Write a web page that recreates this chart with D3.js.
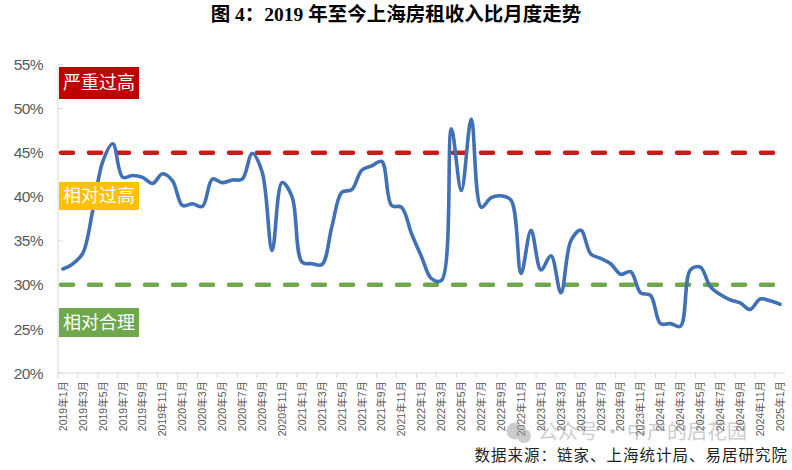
<!DOCTYPE html>
<html>
<head>
<meta charset="utf-8">
<script src="https://cdn.jsdelivr.net/npm/d3@7/dist/d3.min.js"></script>
<style>
  html, body { margin: 0; padding: 0; background: #fff; }
  svg { display: block; }
</style>
</head>
<body>
<svg id="chart" width="792" height="470"></svg>
<script>
// ---------------- data ----------------
const title = "图 4：2019 年至今上海房租收入比月度走势";
const source = "数据来源：链家、上海统计局、易居研究院";
const watermark = "公众号 · 中产的后花园";

const startYear = 2019;
const monthCount = 73; // 2019年1月 … 2025年1月
const months = [];
for (let i = 0; i < monthCount; i++) {
  const yr = startYear + Math.floor(i / 12), m = (i % 12) + 1;
  months.push(yr + "年" + m + "月");
}

// 房租收入比 (%)
const ratio = [
  31.8, 32.4, 33.6, 38.5, 44.0, 46.0, 42.2, 42.4, 42.2, 41.5, 42.6, 41.8,
  39.0, 39.2, 38.9, 42.0, 41.6, 41.9, 42.0, 44.9, 42.8, 33.9, 41.6, 40.0,
  32.6, 32.4, 32.3, 36.6, 40.5, 40.8, 43.0, 43.5, 44.0, 39.0, 38.8, 35.8,
  33.2, 30.7, 30.5, 47.7, 40.7, 48.8, 38.8, 39.9, 40.1, 39.6, 31.3, 36.2,
  31.7, 33.3, 29.1, 35.0, 36.2, 33.5, 33.0, 32.4, 31.2, 31.5, 29.1, 28.8,
  25.6, 25.6, 25.3, 31.7, 32.0, 29.8, 28.9, 28.3, 27.95, 27.2, 28.4, 28.2,
  27.8
];

const yTicks = [20, 25, 30, 35, 40, 45, 50, 55];
const thresholds = [
  { value: 45, color: "#CC1A1A" },
  { value: 30, color: "#6FA84A" }
];
const zoneLabels = [
  { text: "严重过高", color: "#C00000", y: 67, h: 32 },
  { text: "相对过高", color: "#FFC000", y: 182, h: 28 },
  { text: "相对合理", color: "#6FA84A", y: 308, h: 29 }
];

// ---------------- layout ----------------
const svg = d3.select("#chart");
const plotL = 58, plotR = 785, plotT = 64.5, plotB = 373;

const x = d3.scaleBand().domain(months).range([plotL, plotR]).padding(0);
const y = d3.scaleLinear().domain([20, 55]).range([plotB, plotT]);
const cx = d => x(d) + x.bandwidth() / 2;

const latin = "'Liberation Sans', Arial, 'Noto Sans CJK SC', sans-serif";

// title
svg.append("text")
  .attr("x", 396).attr("y", 21)
  .attr("text-anchor", "middle")
  .attr("font-family", "'Liberation Serif', 'Noto Sans CJK SC', serif")
  .attr("font-weight", "bold")
  .attr("font-size", 19.5)
  .attr("fill", "#000")
  .text(title);

// y axis
const yAxis = svg.append("g");
yAxis.append("line")
  .attr("x1", plotL).attr("x2", plotL)
  .attr("y1", plotT).attr("y2", plotB)
  .attr("stroke", "#D9D9D9").attr("stroke-width", 1);
yAxis.selectAll("line.tick").data(yTicks).join("line")
  .attr("class", "tick")
  .attr("x1", plotL).attr("x2", plotL + 5)
  .attr("y1", d => y(d)).attr("y2", d => y(d))
  .attr("stroke", "#D9D9D9");
yAxis.selectAll("text").data(yTicks).join("text")
  .attr("x", 43).attr("y", d => y(d))
  .attr("dy", "0.36em")
  .attr("text-anchor", "end")
  .attr("font-family", latin)
  .attr("font-size", 15.5)
  .attr("letter-spacing", -0.6)
  .attr("fill", "#595959")
  .text(d => d + "%");

// x axis
const xAxis = svg.append("g");
xAxis.append("line")
  .attr("x1", plotL).attr("x2", plotR)
  .attr("y1", plotB).attr("y2", plotB)
  .attr("stroke", "#D9D9D9");
const tickMonths = months.filter((d, i) => i % 2 === 0);
xAxis.selectAll("line.tick").data(tickMonths).join("line")
  .attr("class", "tick")
  .attr("x1", d => x(d)).attr("x2", d => x(d))
  .attr("y1", plotB).attr("y2", plotB + 5)
  .attr("stroke", "#D9D9D9");
xAxis.selectAll("text").data(tickMonths).join("text")
  .attr("transform", d => `translate(${cx(d)},381) rotate(-90)`)
  .attr("dy", "0.36em")
  .attr("text-anchor", "end")
  .attr("font-family", latin)
  .attr("font-size", 10.5)
  .attr("fill", "#595959")
  .text(d => d);

// threshold dashed lines
svg.selectAll("line.thr").data(thresholds).join("line")
  .attr("class", "thr")
  .attr("x1", plotL + 3).attr("x2", plotR)
  .attr("y1", d => y(d.value)).attr("y2", d => y(d.value))
  .attr("stroke", d => d.color)
  .attr("stroke-width", 4.5)
  .attr("stroke-linecap", "round")
  .attr("stroke-dasharray", "12 16");

// line
const line = d3.line()
  .x((d, i) => cx(months[i]))
  .y(d => y(d))
  .curve(d3.curveCatmullRom.alpha(0.5));
svg.append("path")
  .datum(ratio)
  .attr("d", line)
  .attr("fill", "none")
  .attr("stroke", "#4070B6")
  .attr("stroke-width", 3.6)
  .attr("stroke-linejoin", "round")
  .attr("stroke-linecap", "round");

// zone labels
const zl = svg.selectAll("g.zone").data(zoneLabels).join("g").attr("class", "zone");
zl.append("rect")
  .attr("x", 59).attr("y", d => d.y)
  .attr("width", 80).attr("height", d => d.h)
  .attr("fill", d => d.color);
zl.append("text")
  .attr("x", 99).attr("y", d => d.y + d.h / 2)
  .attr("dy", "0.36em")
  .attr("text-anchor", "middle")
  .attr("font-family", "'Noto Sans CJK SC', sans-serif")
  .attr("font-size", 18)
  .attr("fill", "#fff")
  .text(d => d.text);

// watermark
const wm = svg.append("g").attr("opacity", 0.5);
wm.append("circle").attr("cx", 515).attr("cy", 431).attr("r", 8.5).attr("fill", "#9a9a9a");
wm.append("circle").attr("cx", 524).attr("cy", 436).attr("r", 7).attr("fill", "#9a9a9a");
wm.append("text")
  .attr("x", 538).attr("y", 439)
  .attr("font-family", "'Noto Sans CJK SC', sans-serif")
  .attr("font-size", 20)
  .attr("fill", "#9a9a9a")
  .text(watermark);

// source
svg.append("text")
  .attr("x", 788).attr("y", 461)
  .attr("text-anchor", "end")
  .attr("font-family", "'Noto Sans CJK SC', sans-serif")
  .attr("font-size", 15.5)
  .attr("letter-spacing", 1)
  .attr("fill", "#222")
  .text(source);
</script>
</body>
</html>
